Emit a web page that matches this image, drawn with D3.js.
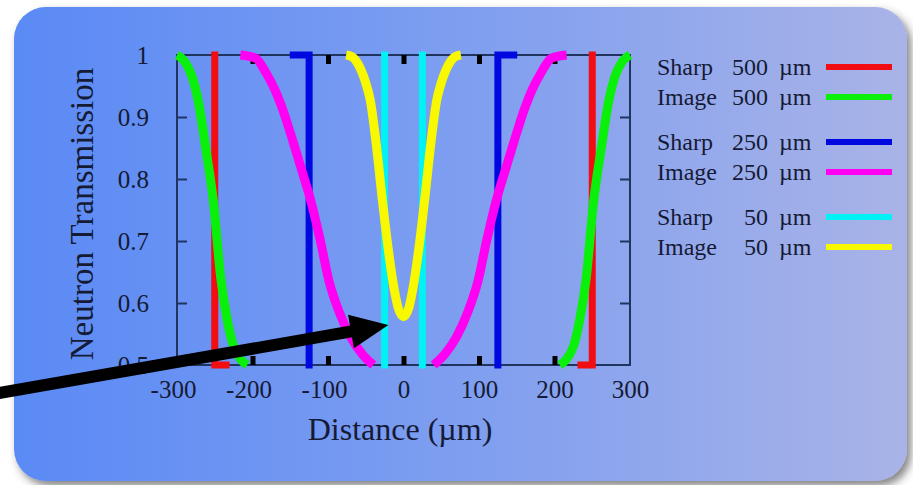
<!DOCTYPE html>
<html>
<head>
<meta charset="utf-8">
<script src="https://cdn.jsdelivr.net/npm/d3@7"></script>
<style>
  html, body { margin: 0; padding: 0; background: #ffffff; }
  svg { display: block; }
  text { font-family: "Liberation Serif", "DejaVu Serif", serif; fill: #151a35; }
</style>
</head>
<body>
<svg id="chart" width="913" height="485"></svg>
<script>
// ---------------- data ----------------
const xTicks = [-300, -200, -100, 0, 100, 200, 300];
const xTickLabels = ["-300", "-200", "-100", "0", "100", "200", "300"];
const yTicks = [0.5, 0.6, 0.7, 0.8, 0.9, 1];
const yTickLabels = ["0.5", "0.6", "0.7", "0.8", "0.9", "1"];
const innerXTicks = [-200, -100, 0, 100, 200];
const innerYTicks = [0.6, 0.7, 0.8, 0.9];

const seriesKind = ["Sharp", "Image", "Sharp", "Image", "Sharp", "Image"];
const seriesSize = ["500", "500", "250", "250", "50", "50"];
const seriesColor = ["#f20d12", "#0af00a", "#0008e0", "#ff00f2", "#00f2f5", "#f8f800"];

// Sharp 500 µm (null = gap between the two edges)
const sharp500X = [-250, -250, -235, null, 235, 250, 250];
const sharp500T = [1, 0.5, 0.5, null, 0.5, 0.5, 1];
// Image 500 µm
const image500X = [-300, -290, -280, -272, -262, -252, -242, -233, -225, -215, -207, null,
                   207, 215, 225, 233, 242, 252, 262, 272, 280, 290, 300];
const image500T = [1, 0.99, 0.965, 0.927, 0.85, 0.766, 0.64, 0.57, 0.53, 0.508, 0.5, null,
                   0.5, 0.508, 0.53, 0.57, 0.64, 0.766, 0.85, 0.927, 0.965, 0.99, 1];
// Sharp 250 µm
const sharp250X = [-146, -125, -125, null, 125, 125, 146];
const sharp250T = [1, 1, 0.5, null, 0.5, 1, 1];
// Image 250 µm
const image250X = [-216, -196, -183, -170, -160, -147, -135, -123, -110, -99, -85, -70, -55, -40, null,
                   40, 55, 70, 85, 99, 110, 123, 135, 147, 160, 170, 183, 196, 216];
const image250T = [1, 0.995, 0.973, 0.943, 0.912, 0.863, 0.815, 0.766, 0.70, 0.637, 0.585, 0.545, 0.518, 0.5, null,
                   0.5, 0.518, 0.545, 0.585, 0.637, 0.70, 0.766, 0.815, 0.863, 0.912, 0.943, 0.973, 0.995, 1];
// Sharp 50 µm
const sharp50X = [-25, -25, null, 25, 25];
const sharp50T = [1, 0.5, null, 0.5, 1];
// Image 50 µm
const image50X = [-76, -68, -60, -50, -44, -36, -28, -20, -13, -7, 0, 7, 13, 20, 28, 36, 44, 50, 60, 68, 76];
const image50T = [1, 0.997, 0.985, 0.955, 0.927, 0.855, 0.766, 0.685, 0.627, 0.592, 0.578,
                  0.592, 0.627, 0.685, 0.766, 0.855, 0.927, 0.955, 0.985, 0.997, 1];

// annotation arrow (data units: start -> tip)
const arrowX = [-534, -20];
const arrowT = [0.455, 0.5645];

// ---------------- drawing ----------------
const svg = d3.select("#chart");
const plot = { left: 177, right: 630, top: 55, bottom: 365 };

const x = d3.scaleLinear().domain([-300, 300]).range([plot.left, plot.right]);
const y = d3.scaleLinear().domain([0.5, 1]).range([plot.bottom, plot.top]);

const defs = svg.append("defs");
const grad = defs.append("linearGradient").attr("id", "bg").attr("x1", 0).attr("x2", 1).attr("y1", 0).attr("y2", 0);
grad.append("stop").attr("offset", 0).attr("stop-color", "#5a8af5");
grad.append("stop").attr("offset", 0.5).attr("stop-color", "#7e9ef0");
grad.append("stop").attr("offset", 1).attr("stop-color", "#a9b3e7");
const filt = defs.append("filter").attr("id", "shadow").attr("x", -0.05).attr("y", -0.05).attr("width", 1.15).attr("height", 1.15);
filt.append("feDropShadow").attr("dx", 4).attr("dy", 5).attr("stdDeviation", 4).attr("flood-color", "#303030").attr("flood-opacity", 0.6);

svg.append("rect").attr("x", 14).attr("y", 7).attr("width", 893).attr("height", 474)
  .attr("rx", 32).attr("ry", 32).attr("fill", "url(#bg)").attr("filter", "url(#shadow)");

// frame
svg.append("rect").attr("x", plot.left).attr("y", plot.top)
  .attr("width", plot.right - plot.left).attr("height", plot.bottom - plot.top)
  .attr("fill", "none").attr("stroke", "#1f3560").attr("stroke-width", 2);

// inner y ticks (left & right)
const yTickL = svg.append("g").attr("transform", `translate(${plot.left},0)`)
  .call(d3.axisLeft(y).tickValues(innerYTicks).tickSize(-10).tickFormat(""));
const yTickR = svg.append("g").attr("transform", `translate(${plot.right},0)`)
  .call(d3.axisRight(y).tickValues(innerYTicks).tickSize(-10).tickFormat(""));
[yTickL, yTickR].forEach(g => {
  g.select(".domain").remove();
  g.selectAll("line").attr("stroke", "#1f3560").attr("stroke-width", 2);
});

// inner x ticks (top & bottom), thick black
const xTickB = svg.append("g").attr("transform", `translate(0,${plot.bottom})`)
  .call(d3.axisBottom(x).tickValues(innerXTicks).tickSize(-9).tickFormat(""));
const xTickT = svg.append("g").attr("transform", `translate(0,${plot.top})`)
  .call(d3.axisTop(x).tickValues(innerXTicks).tickSize(-9).tickFormat(""));
[xTickB, xTickT].forEach(g => {
  g.select(".domain").remove();
  g.selectAll("line").attr("stroke", "#000").attr("stroke-width", 5);
});

// tick labels
const xLab = svg.append("g").attr("transform", `translate(0,${plot.bottom})`)
  .call(d3.axisBottom(x).tickValues(xTicks).tickSize(0).tickPadding(15)
    .tickFormat((d, i) => xTickLabels[i]));
xLab.select(".domain").remove();
xLab.selectAll("text").attr("font-size", 25).attr("fill", "#151a35")
  .attr("font-family", "Liberation Serif")
  .attr("dx", (d) => d < 0 ? -4 : 0);

const yLab = svg.append("g").attr("transform", `translate(${plot.left},0)`)
  .call(d3.axisLeft(y).tickValues(yTicks).tickSize(0).tickPadding(28)
    .tickFormat((d, i) => yTickLabels[i]));
yLab.select(".domain").remove();
yLab.selectAll("text").attr("font-size", 25).attr("fill", "#151a35")
  .attr("font-family", "Liberation Serif");

// series
function pts(xs, ts) { return xs.map((v, i) => ({ x: v, t: ts[i] })); }
const series = [
  { data: pts(sharp500X, sharp500T), sharp: true },
  { data: pts(image500X, image500T), sharp: false },
  { data: pts(sharp250X, sharp250T), sharp: true },
  { data: pts(image250X, image250T), sharp: false },
  { data: pts(sharp50X, sharp50T), sharp: true },
  { data: pts(image50X, image50T), sharp: false }
];
const lineSharp = d3.line().defined(d => d.x != null).x(d => x(d.x)).y(d => y(d.t)).curve(d3.curveLinear);
const lineImage = d3.line().defined(d => d.x != null).x(d => x(d.x)).y(d => y(d.t)).curve(d3.curveMonotoneX);

series.forEach((s, i) => {
  svg.append("path").datum(s.data)
    .attr("d", s.sharp ? lineSharp : lineImage)
    .attr("fill", "none")
    .attr("stroke", seriesColor[i])
    .attr("stroke-width", s.sharp ? 7 : 9)
    .attr("stroke-linejoin", "miter")
    .attr("stroke-linecap", s.sharp ? "square" : "butt");
});

// legend
const leg = svg.append("g");
seriesKind.forEach((k, i) => {
  const base = 75 + i * 30 + Math.floor(i / 2) * 15;
  leg.append("text").attr("x", 657).attr("y", base).attr("font-size", 24).text(k);
  leg.append("text").attr("x", 768).attr("y", base).attr("font-size", 24).attr("text-anchor", "end").text(seriesSize[i]);
  leg.append("text").attr("x", 779).attr("y", base).attr("font-size", 24).text("µm");
  leg.append("line").attr("x1", 826).attr("x2", 892).attr("y1", base - 8).attr("y2", base - 8)
    .attr("stroke", seriesColor[i]).attr("stroke-width", 6);
});

// axis titles
svg.append("text").attr("x", 400).attr("y", 440).attr("text-anchor", "middle")
  .attr("font-size", 32).text("Distance (µm)");
svg.append("text").attr("transform", "translate(93,214) rotate(-90)").attr("text-anchor", "middle")
  .attr("font-size", 33).text("Neutron Transmission");

// arrow annotation
const ax0 = x(arrowX[0]), ay0 = y(arrowT[0]), ax1 = x(arrowX[1]), ay1 = y(arrowT[1]);
const dx = ax1 - ax0, dy = ay1 - ay0, L = Math.hypot(dx, dy);
const ux = dx / L, uy = dy / L, nx = -uy, ny = ux;
const headLen = 38, headHalf = 17;
const bx = ax1 - ux * headLen, by = ay1 - uy * headLen;
svg.append("line").attr("x1", ax0 - ux * 10).attr("y1", ay0 - uy * 10).attr("x2", bx + ux * 2).attr("y2", by + uy * 2)
  .attr("stroke", "#000").attr("stroke-width", 12);
svg.append("path")
  .attr("d", `M${ax1},${ay1}L${bx + nx * headHalf},${by + ny * headHalf}L${bx - nx * headHalf},${by - ny * headHalf}Z`)
  .attr("fill", "#000");
</script>
</body>
</html>
